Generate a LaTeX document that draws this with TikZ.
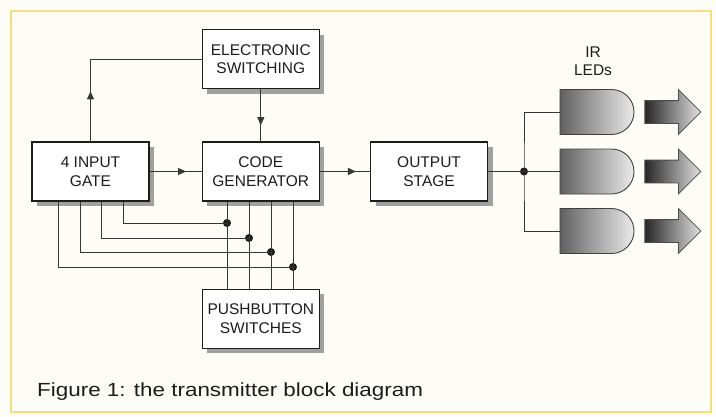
\documentclass[tikz,border=0pt]{standalone}
\usepackage{fontspec}
\setmainfont{Liberation Sans}
\usepackage{graphicx}
\usepackage{tikz}
\usetikzlibrary{positioning,arrows.meta,shadows,shapes.misc,shapes.arrows,
  decorations.markings}
\definecolor{ink}{RGB}{28,28,28}
\definecolor{paper}{RGB}{253,252,247}
\definecolor{frameyel}{RGB}{244,222,132}
\definecolor{shadowgr}{RGB}{150,150,150}
\definecolor{wiregr}{RGB}{55,55,55}
\tikzset{
  blk/.style={draw=ink, fill=white, line width=1.3pt, align=center,
    minimum width=117pt, minimum height=59pt, inner sep=2pt,
    font=\fontsize{15.5}{18.5}\selectfont, text=ink,
    drop shadow={shadow xshift=5pt, shadow yshift=-5pt, fill=shadowgr, opacity=0.9}},
  wire/.style={draw=wiregr, line width=0.9pt},
  flowmid/.style={wire, postaction={decorate}, decoration={markings,
    mark=at position #1 with {\arrow{Triangle[length=8pt,width=7pt]}}}},
  dot/.style={circle, fill=ink, inner sep=0pt, minimum size=8pt},
  led/.style={rounded rectangle, rounded rectangle west arc=none, draw=black!75,
    line width=0.9pt, left color=black!62, right color=black!8,
    minimum width=74pt, minimum height=45pt, inner sep=0pt},
  ray/.style={single arrow, single arrow head extend=11pt, draw=black!70,
    line width=0.8pt, left color=black!85, right color=black!12,
    minimum height=56pt, inner xsep=0pt, inner ysep=11pt},
  lbl/.style={align=center, inner sep=0pt, font=\fontsize{15.5}{18.5}\selectfont, text=ink},
}

\begin{document}
\begin{tikzpicture}[x=1pt, y=-1pt]
  \fill[paper] (0,0) rectangle (716,416);
  \useasboundingbox (0,0) rectangle (716,416);
  \draw[frameyel, line width=1.2pt] (11,11) rectangle (711,412);
  % blocks
  \node[blk] (gate) at (90.5,171.5) {4 INPUT\\GATE};
  \node[blk, right=52pt of gate] (code) {CODE\\GENERATOR};
  \node[blk, right=50pt of code] (out) {OUTPUT\\STAGE};
  \node[blk, above=52pt of code] (elec) {ELECTRONIC\\SWITCHING};
  \node[blk, below=87pt of code] (push) {PUSHBUTTON\\SWITCHES};
  \draw[flowmid=0.7] (gate.east) -- (code.west);
  \draw[flowmid=0.72] (code.east) -- (out.west);
  \draw[flowmid=0.69] (elec.south) -- (code.north);
  \draw[flowmid=50pt] (gate.north) |- (elec.west);
  % pushbutton bus
  \foreach \i/\gx/\jx/\jy in {1/32.5/227/223, 2/11/249/238, 3/-10.5/271/252, 4/-32.5/293/267} {
    \node[dot] (j\i) at (\jx,\jy) {};
    \draw[wire] (code.south -| j\i) -- (push.north -| j\i);
    \draw[wire] ([xshift=\gx pt]gate.south) |- (j\i.center);
  }
  % IR LEDs
  \foreach \i/\y in {1/112, 2/171.5, 3/231} {
    \node[led] (led\i) at (597,\y) {};
    \node[ray, right=10pt of led\i] (ray\i) {};
  }
  \node[lbl, above=13pt of led1, xshift=-4pt] (irlbl) {IR\\LEDs};
  \node[dot] (jn) at (524,171.5) {};
  \draw[wire] (out.east) -- (led2.west);
  \draw[wire] (led1.west) -| (jn.center) |- (led3.west);
  \node[anchor=base west, inner sep=0pt, text=ink, font=\fontsize{19}{22}\selectfont]
    (caption) at (37,396.5) {\scalebox{1.18}[1]{Figure 1: the transmitter block diagram}};
\end{tikzpicture}
\end{document}
